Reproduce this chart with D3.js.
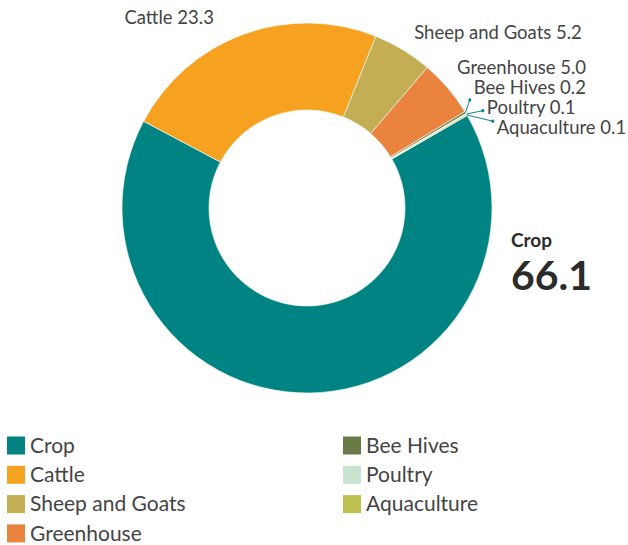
<!DOCTYPE html>
<html>
<head>
<meta charset="utf-8">
<script src="https://cdn.jsdelivr.net/npm/d3@7"></script>
<style>
  body { margin: 0; background: #fff; }
  svg { display: block; font-family: Lato, "Open Sans", sans-serif; }
</style>
</head>
<body>
<div id="viz"></div>
<script>
const categories = ["Crop", "Cattle", "Sheep and Goats", "Greenhouse", "Bee Hives", "Poultry", "Aquaculture"];
const values = [66.1, 23.3, 5.2, 5.0, 0.2, 0.1, 0.1];
const colors = ["#008383", "#f6a220", "#c4ae53", "#ea833e", "#6a7b48", "#c6e4d0", "#bdc14f"];

const width = 628, height = 545;
const cx = 307, cy = 208;
const outerR = 185, innerR = 98;
const labelR = 207;
const gap = 20;

const data = categories.map((c, i) => ({ name: c, value: values[i], color: colors[i] }));

const svg = d3.select("#viz").append("svg")
    .attr("width", width)
    .attr("height", height);

const start = 60 * Math.PI / 180;
const pie = d3.pie()
    .sort(null)
    .value(d => d.value)
    .startAngle(start)
    .endAngle(start + 2 * Math.PI);

const arc = d3.arc().innerRadius(innerR).outerRadius(outerR);
const arcs = pie(data);

const g = svg.append("g").attr("transform", `translate(${cx},${cy})`);

g.selectAll(".slice")
    .data(arcs)
    .join("path")
        .attr("class", "slice")
        .attr("d", arc)
        .attr("fill", d => d.data.color)
        .attr("stroke", "#fff")
        .attr("stroke-width", 0.6);

// labels for everything except the big one
const labels = arcs.slice(1).map(a => {
    const mid = (a.startAngle + a.endAngle) / 2;
    return {
        arc: a,
        mid: mid,
        right: Math.sin(mid) >= 0,
        y0: -labelR * Math.cos(mid)
    };
});

function distribute(items) {
    items.sort((a, b) => a.y0 - b.y0);
    let groups = items.map(d => ({ members: [d] }));
    const top = grp => d3.mean(grp.members, m => m.y0) - (grp.members.length - 1) * gap / 2;
    let merged = true;
    while (merged) {
        merged = false;
        for (let i = 1; i < groups.length; i++) {
            const prev = groups[i - 1];
            const prevBottom = top(prev) + (prev.members.length - 1) * gap;
            if (top(groups[i]) < prevBottom + gap) {
                prev.members = prev.members.concat(groups[i].members);
                groups.splice(i, 1);
                merged = true;
                break;
            }
        }
    }
    groups.forEach(grp => {
        const t = top(grp);
        grp.members.forEach((m, j) => { m.y = t + j * gap; });
    });
}

distribute(labels.filter(d => d.right));
distribute(labels.filter(d => !d.right));

// left-hand labels sit a little further out and lower
const leftNudge = { x: -22, y: 4 };
labels.forEach(d => {
    const dx = Math.sqrt(Math.max(0, labelR * labelR - d.y * d.y));
    if (d.right) {
        d.x = dx;
        d.y += 2;
    } else {
        d.x = -dx + leftNudge.x;
        d.y += leftNudge.y;
    }
});

const small = labels.filter(d => d.arc.data.value < 1);
small.forEach(d => {
    d.px = outerR * Math.sin(d.mid);
    d.py = -outerR * Math.cos(d.mid);
    d.dotX = d.x - 4;
    d.dotY = (d.py + d.y) / 2;
});

g.selectAll(".connector")
    .data(small)
    .join("line")
        .attr("class", "connector")
        .attr("stroke", "#0d8a8f")
        .attr("stroke-width", 1)
        .attr("x1", d => d.px)
        .attr("y1", d => d.py)
        .attr("x2", d => d.dotX)
        .attr("y2", d => d.dotY);

g.selectAll(".connector-dot")
    .data(small)
    .join("circle")
        .attr("class", "connector-dot")
        .attr("cx", d => d.dotX)
        .attr("cy", d => d.dotY)
        .attr("r", 1.6)
        .attr("fill", "#0d8a8f");

g.selectAll(".slice-label")
    .data(labels)
    .join("text")
        .attr("class", "slice-label")
        .attr("x", d => d.x)
        .attr("y", d => d.y)
        .attr("dy", "0.35em")
        .style("text-anchor", d => d.right ? "start" : "end")
        .style("fill", "#444")
        .style("font-size", "18.5px")
        .text(d => `${d.arc.data.name} ${d.arc.data.value.toFixed(1)}`);

// big annotation for the largest slice
const top1 = arcs[0];
const ann = svg.append("g")
    .attr("transform", `translate(${cx + outerR + 19},${cy})`);
ann.append("text")
    .attr("y", 39)
    .style("font-size", "19px")
    .style("font-weight", 700)
    .style("fill", "#2b2b2b")
    .text(top1.data.name);
ann.append("text")
    .attr("y", 82)
    .style("font-size", "41px")
    .style("font-weight", 700)
    .style("fill", "#2b2b2b")
    .text(top1.data.value.toFixed(1));

// legend, two columns
const perCol = 4;
const legendX = d3.scalePoint().domain([0, 1]).range([7, 343]);
const legendY = d3.scaleLinear().domain([0, 1]).range([436.5, 465.8]);

const leg = svg.selectAll(".legend-item")
    .data(data)
    .join("g")
        .attr("class", "legend-item")
        .attr("transform", (d, i) => `translate(${legendX(Math.floor(i / perCol))},${legendY(i % perCol)})`);

leg.append("rect")
    .attr("width", 18)
    .attr("height", 18)
    .attr("fill", d => d.color);

leg.append("text")
    .attr("x", 23)
    .attr("y", 9)
    .attr("dy", "0.35em")
    .style("font-size", "21px")
    .style("fill", "#444")
    .text(d => d.name);
</script>
</body>
</html>
